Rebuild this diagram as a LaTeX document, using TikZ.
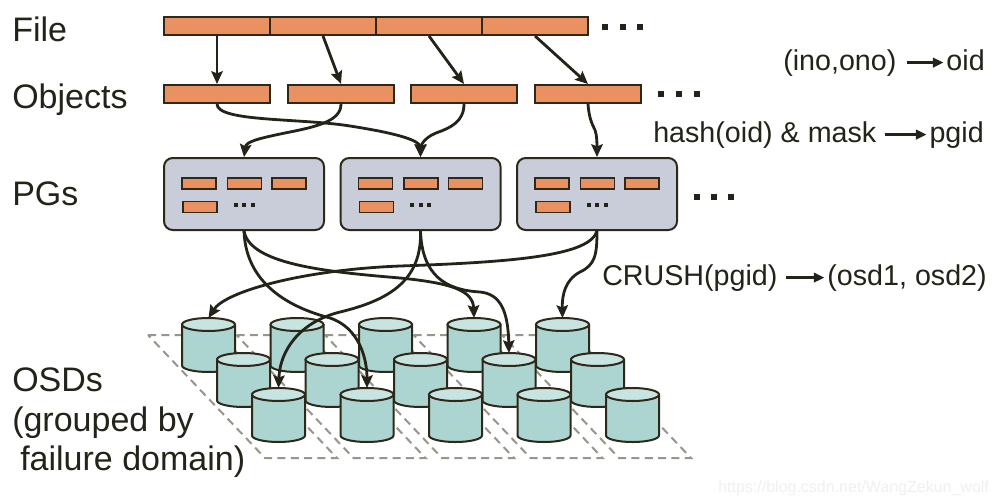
\documentclass[tikz,border=0pt]{standalone}
\usepackage{fontspec}
\setmainfont{Liberation Sans}
\usetikzlibrary{arrows.meta,calc}
\definecolor{objcol}{RGB}{233,145,96}
\definecolor{edgecol}{RGB}{45,40,25}
\definecolor{pgcol}{RGB}{201,205,217}
\definecolor{cylbody}{RGB}{172,212,208}
\definecolor{cyltop}{RGB}{200,228,224}
\definecolor{dashcol}{RGB}{150,150,140}
\definecolor{ink}{RGB}{35,35,25}
\begin{document}
\begin{tikzpicture}[x=0.75pt,y=-0.75pt,
  objbox/.style={draw=edgecol,fill=objcol,line width=1.5pt,inner sep=0pt,minimum width=79.5pt,minimum height=13.5pt},
  minibox/.style={draw=edgecol,fill=objcol,line width=1.2pt,inner sep=0pt,minimum width=25.5pt,minimum height=8.25pt},
  pgbox/.style={draw=edgecol,fill=pgcol,line width=1.5pt,rounded corners=6.5pt,inner sep=0pt,minimum width=120pt,minimum height=54pt},
  conn/.style={draw=ink,line width=2.1pt,line join=round,-{Stealth[length=9.5pt,width=8.5pt,inset=1.5pt]}},
  labarrow/.style={draw=ink,line width=2pt,-{Triangle[length=8pt,width=7pt]}},
  biglab/.style={anchor=base west,inner sep=0pt,text=ink,font=\fontsize{25.5}{30}\selectfont},
  maplab/.style={inner sep=0pt,text=ink,font=\fontsize{21.5}{26}\selectfont},
  faildomain/.style={draw=dashcol,line width=1.5pt,dash pattern=on 6pt off 4pt},
  cylside/.style={draw=edgecol,fill=cylbody,line width=1.5pt,line join=round},
  cyltopst/.style={draw=edgecol,fill=cyltop,line width=1.5pt}
]
\useasboundingbox (0,0) rectangle (998,503);
\fill[white] (0,0) rectangle (998,503);

% left labels
\node[biglab] (lfile) at (12,42) {File};
\node[biglab] (lobj) at (12,108) {Objects};
\node[biglab] (lpg) at (12,205) {PGs};
\node[biglab] (losd1) at (12,391) {OSDs};
\node[biglab] (losd2) at (12,431) {(grouped by};
\node[biglab] (losd3) at (20,470) {failure domain)};

% file segments
\node[objbox] (f1) at (217,26) {};
\node[objbox] (f2) at (323,26) {};
\node[objbox] (f3) at (429,26) {};
\node[objbox] (f4) at (535,26) {};
\foreach \x in {605,623,640} \fill[ink] (\x-3,24) rectangle (\x+3,30);

% objects
\node[objbox] (o1) at (217,94) {};
\node[objbox] (o2) at (341,94) {};
\node[objbox] (o3) at (464,94) {};
\node[objbox] (o4) at (588,94) {};
\foreach \x in {661,679,697} \fill[ink] (\x-3,91) rectangle (\x+3,97);

% PGs
\node[pgbox] (pg1) at (244,194) {};
\node[pgbox] (pg2) at (420.5,194) {};
\node[pgbox] (pg3) at (597,194) {};
\foreach \p in {1,2,3} {
  \node[minibox] (pg\p-a) at ($(pg\p)+(-45,-10.5)$) {};
  \node[minibox] (pg\p-b) at ($(pg\p)+(0.5,-10.5)$) {};
  \node[minibox] (pg\p-c) at ($(pg\p)+(45,-10.5)$) {};
  \node[minibox] (pg\p-d) at ($(pg\p)+(-44,13)$) {};
  \foreach \d in {-8.5,0,8.5} \fill[ink] ($(pg\p)+(\d-2,9)$) rectangle ($(pg\p)+(\d+2,13)$);
}
\foreach \x in {697,714,731} \fill[ink] (\x-3,194) rectangle (\x+3,200);

% failure domains
\foreach \c in {0,...,4} {
  \draw[faildomain] (148+88.5*\c,335) -- (220+88.5*\c,335) -- (337+88.5*\c,458) -- (265+88.5*\c,458) -- cycle;
}

% OSD cylinders
\foreach \r/\dd in {1/0,2/35,3/70} {
  \foreach \c in {1,...,5} {
    \pgfmathsetmacro\cx{208.5+\dd+88.5*(\c-1)}
    \pgfmathsetmacro\cy{324.5+\dd}
    \filldraw[cylside] (\cx-26.5,\cy) -- (\cx-26.5,\cy+41) arc[start angle=180,end angle=0,x radius=26.5,y radius=6.5] -- (\cx+26.5,\cy) -- cycle;
    \filldraw[cyltopst] (\cx,\cy) ellipse[x radius=26.5,y radius=6.5];
    \coordinate (osd-\r-\c) at (\cx,\cy-6.5);
  }
}

% file -> objects
\draw[conn] (f1.south) -- (o1.north);
\draw[conn] (f2.south) -- (o2.north);
\draw[conn] (f3.south) -- (o3.north);
\draw[conn] (f4.south) -- (o4.north);

% objects -> PGs
\draw[conn] (o1.south) .. controls (217,122) and (300,118) .. (350,126) .. controls (395,133) and (420,140) .. (pg2.north);
\draw[conn] (o2.south) .. controls (341,120) and (320,126) .. (290,132) .. controls (255,139) and (246,142) .. (pg1.north);
\draw[conn] (o3.south) .. controls (464,122) and (450,128) .. (436,133) .. controls (424,138) and (421,145) .. (pg2.north);
\draw[conn] (o4.south) .. controls (589,118) and (592,124) .. (595,130) .. controls (597,135) and (597,145) .. (pg3.north);

% PGs -> OSDs
\draw[conn] (pg1.south) .. controls (246,290) and (300,310) .. (330,318) .. controls (360,328) and (367,360) .. (osd-3-2);
\draw[conn] (pg1.south) .. controls (250,265) and (330,272) .. (400,278) .. controls (450,283) and (473,290) .. (osd-1-4);
\draw[conn] (pg2.south) .. controls (422,280) and (390,300) .. (340,312) .. controls (300,322) and (280,350) .. (osd-3-1);
\draw[conn] (pg2.south) .. controls (422,275) and (445,290) .. (480,292) .. controls (500,294) and (508,310) .. (osd-2-4);
\draw[conn] (pg3.south) .. controls (590,255) and (520,262) .. (400,266) .. controls (300,270) and (225,292) .. (osd-1-1);
\draw[conn] (pg3.south) .. controls (597,255) and (595,265) .. (580,272) .. controls (565,280) and (562,295) .. (osd-1-5);

% mapping labels
\node[maplab,anchor=base west] (m1a) at (783,70) {(ino,ono)};
\node[maplab,anchor=base east] (m1b) at (985,70) {oid};
\draw[labarrow,shorten <=8pt,shorten >=2pt] (m1a.east) -- (m1a.east -| m1b.west);
\node[maplab,anchor=base west] (m2a) at (653,142) {hash(oid) \& mask};
\node[maplab,anchor=base east] (m2b) at (984,142) {pgid};
\draw[labarrow,shorten <=6pt,shorten >=2pt] (m2a.east) -- (m2a.east -| m2b.west);
\node[maplab,anchor=base west] (m3a) at (602,285) {CRUSH(pgid)};
\node[maplab,anchor=base east] (m3b) at (987,285) {(osd1, osd2)};
\draw[labarrow,shorten <=6pt,shorten >=2pt] (m3a.east) -- (m3a.east -| m3b.west);

% watermark
\node[anchor=base west,inner sep=0pt,text=black!6,font=\fontsize{12}{14}\selectfont] (wm) at (718,492) {https://blog.csdn.net/WangZekun\_wolf};
\end{tikzpicture}
\end{document}
